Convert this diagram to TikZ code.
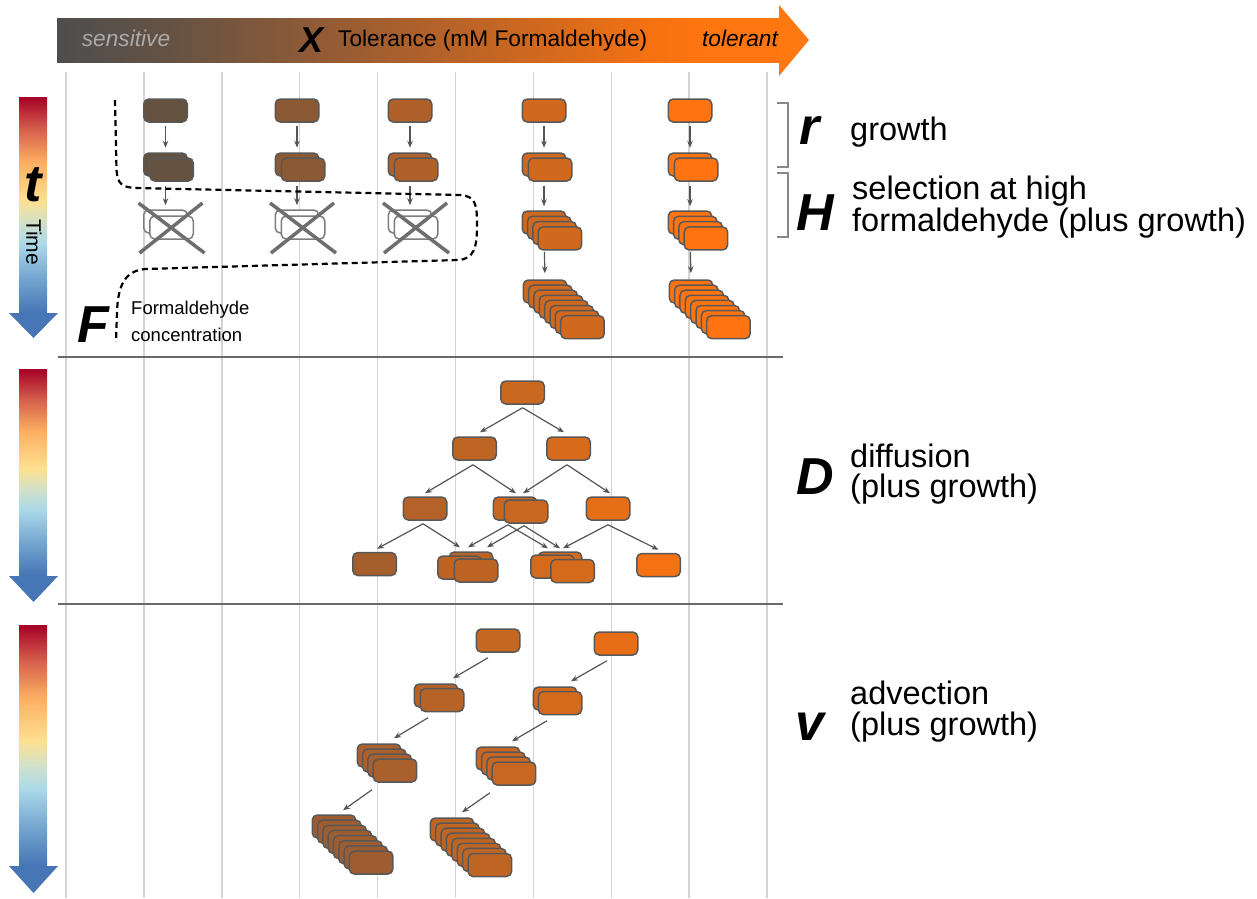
\documentclass[tikz,border=0pt]{standalone}
\usepackage{fontspec}
\setmainfont{Liberation Sans}
\usetikzlibrary{arrows.meta}
\definecolor{cA}{RGB}{101,81,63}
\definecolor{cB}{RGB}{139,90,53}
\definecolor{cC}{RGB}{176,97,42}
\definecolor{cD}{RGB}{208,105,29}
\definecolor{cE}{RGB}{255,116,16}
\definecolor{d1c}{RGB}{203,104,31}
\definecolor{d2lc}{RGB}{191,101,36}
\definecolor{d2rc}{RGB}{216,107,27}
\definecolor{d3lc}{RGB}{180,98,41}
\definecolor{d3mc}{RGB}{201,103,32}
\definecolor{d3rc}{RGB}{229,110,23}
\definecolor{d4lc}{RGB}{164,95,45}
\definecolor{d4gc}{RGB}{189,100,37}
\definecolor{d4hc}{RGB}{212,106,28}
\definecolor{d4rc}{RGB}{245,114,19}
\definecolor{ad1}{RGB}{197,102,33}
\definecolor{ad2}{RGB}{183,99,39}
\definecolor{ad3}{RGB}{169,96,44}
\definecolor{ad4}{RGB}{157,93,48}
\definecolor{bd1}{RGB}{231,110,23}
\definecolor{bd2}{RGB}{212,106,28}
\definecolor{bd3}{RGB}{199,103,33}
\definecolor{bd4}{RGB}{191,101,36}
\definecolor{cellborder}{RGB}{88,88,88}
\definecolor{arrgray}{RGB}{85,85,85}
\definecolor{gridgray}{RGB}{212,212,212}
\definecolor{sepgray}{RGB}{105,105,105}
\definecolor{brkgray}{RGB}{135,135,135}
\definecolor{xgray}{RGB}{110,110,110}
\definecolor{ghost}{RGB}{125,125,125}
\definecolor{sensgray}{RGB}{170,170,170}
\definecolor{headorange}{RGB}{255,121,16}
\definecolor{headblue}{RGB}{70,118,182}
\definecolor{t8}{RGB}{165,0,38}
\definecolor{t7}{RGB}{214,96,77}
\definecolor{t6}{RGB}{253,174,97}
\definecolor{t5}{RGB}{254,224,144}
\definecolor{t4}{RGB}{210,225,200}
\definecolor{t3}{RGB}{171,217,233}
\definecolor{t2}{RGB}{116,165,208}
\definecolor{tb}{RGB}{69,117,180}
\definecolor{b0}{RGB}{78,78,78}
\definecolor{b1}{RGB}{100,82,68}
\definecolor{b2}{RGB}{139,90,56}
\definecolor{b3}{RGB}{172,96,44}
\definecolor{b4}{RGB}{210,105,30}
\definecolor{b5}{RGB}{245,113,18}
\definecolor{b6}{RGB}{255,117,15}
\pgfdeclareverticalshading{timegrad}{100bp}{color(0bp)=(tb); color(25bp)=(tb); color(33bp)=(t2); color(41bp)=(t3); color(46bp)=(t4); color(51bp)=(t5); color(60bp)=(t6); color(67.5bp)=(t7); color(75bp)=(t8); color(100bp)=(t8)}
\pgfdeclarehorizontalshading{bargrad}{100bp}{color(0bp)=(b0); color(25bp)=(b0); color(32.5bp)=(b1); color(41.8bp)=(b2); color(49.4bp)=(b3); color(58.7bp)=(b4); color(66bp)=(b5); color(69.5bp)=(b6); color(75bp)=(b6); color(100bp)=(b6)}
\newcommand\bigletter{\fontsize{52}{52}\selectfont\bfseries\itshape}
\newcommand\labfont{\fontsize{32.5}{31}\selectfont}
\newcommand\barfont{\fontsize{22.7}{23}\selectfont}
\begin{document}
\begin{tikzpicture}[x=1pt,y=-1pt,
  cell/.style={draw=cellborder, line width=1.5pt, rounded corners=5pt, minimum width=43.5pt, minimum height=23pt, inner sep=0pt},
  ghostcell/.style={draw=ghost, fill=white, line width=1.5pt, rounded corners=5pt, minimum width=43.5pt, minimum height=23pt, inner sep=0pt},
  arr/.style={draw=arrgray, line width=1.2pt, -{Stealth[length=7pt,width=5.5pt]}},
  gridline/.style={draw=gridgray, line width=1.5pt},
  sepline/.style={draw=sepgray, line width=2.2pt},
  brk/.style={draw=brkgray, line width=1.5pt},
  xline/.style={draw=xgray, line width=3.5pt},
  fdash/.style={draw=black, line width=2.2pt, dash pattern=on 6pt off 4pt},
  lab/.style={anchor=base west, inner sep=0pt, font=\labfont},
  big/.style={anchor=base, inner sep=0pt, font=\bigletter}]
\useasboundingbox (0,0) rectangle (1257,898);
% grid
\foreach \i in {0,...,9} \draw[gridline] ({66+77.9*\i},72) -- ({66+77.9*\i},898);
\draw[sepline] (58,357) -- (783,357);
\draw[sepline] (58,604) -- (783,604);
% top bar
\shade[shading=bargrad] (57,18) rectangle (780,62);
\fill[headorange] (779,5) -- (809,40) -- (779,76) -- cycle;
\node[anchor=base, inner sep=0pt, font=\barfont\itshape, text=sensgray] (sens) at (126,46) {sensitive};
\node[anchor=base, inner sep=0pt, font=\fontsize{36}{36}\selectfont\bfseries\itshape] (xlab) at (312,52) {X};
\node[anchor=base west, inner sep=0pt, font=\barfont] (tol) at (338,46) {Tolerance (mM Formaldehyde)};
\node[anchor=base, inner sep=0pt, font=\barfont\itshape] (tolr) at (740,46) {tolerant};
% time arrows
\foreach \top/\hs/\tip in {97/313/338, 369/576/602, 625/866/893} {
  \shade[shading=timegrad] (19,\top) rectangle (47,\hs);
  \fill[headblue] (9,\hs) -- (58,\hs) -- (33.5,\tip) -- cycle;
}
\node[big] (tlab) at (33,201) {t};
\node[rotate=-90, inner sep=0pt, font=\fontsize{21}{21}\selectfont] (time) at (34,242) {Time};
% top panel: rows 1-2
\foreach \n/\x/\cc in {1/165.5/cA, 2/297/cB, 3/410/cC, 4/544/cD, 5/690/cE} {
  \node[cell,fill=\cc] (c\n-r1) at (\x,110.5) {};
  \node[cell,fill=\cc] (c\n-r2b) at (\x,164.5) {};
  \node[cell,fill=\cc] (c\n-r2f) at ({\x+6},169.5) {};
  \draw[arr, shorten <=3.5pt, shorten >=4.5pt] (c\n-r1.south) -- (c\n-r2b.north);
}
% crossed cells
\foreach \n/\x in {1/165.5, 2/297, 3/410} {
  \node[ghostcell] (c\n-r3b) at (\x,221.5) {};
  \node[ghostcell] (c\n-r3f) at ({\x+6},227.5) {};
  \draw[arr, shorten <=9pt, shorten >=4pt] (c\n-r2b.south) -- (c\n-r3b.north);
  \draw[xline] ({\x+6-33},203) -- ({\x+6+33},253);
  \draw[xline] ({\x+6+31},203) -- ({\x+6-32},253);
}
% surviving columns
\foreach \n/\x/\cc in {4/544/cD, 5/690/cE} {
  \foreach \k in {0,...,3} \node[cell,fill=\cc] (c\n-r3-\k) at ({\x+5.3*\k},{222.5+5.3*\k}) {};
  \foreach \k in {0,...,7} \node[cell,fill=\cc] (c\n-r4-\k) at ({\x+1+5.35*\k},{291.5+5.1*\k}) {};
  \draw[arr, shorten <=9pt, shorten >=4pt] (c\n-r2b.south) -- (c\n-r3-0.north);
  \draw[arr, shorten <=17pt, shorten >=6pt] (c\n-r3-0.south) -- (c\n-r4-0.north);
}
% formaldehyde curve
\draw[fdash] (115,100) -- (116.5,170) .. controls (117.5,184) and (122,187) .. (135,188) -- (460,195) .. controls (476,196) and (477,205) .. (477,225) .. controls (477,248) and (474,259) .. (458,260) -- (145,269) .. controls (125,271) and (118,285) .. (117,312) -- (116,342);
\node[big] (flab) at (93,342) {F};
\node[anchor=south west, inner sep=0pt, align=left, font=\fontsize{18.5}{27}\selectfont] (fc) at (131,342) {Formaldehyde\\concentration};
% brackets and labels
\draw[brk] (777,103) -- (788,103) -- (788,167) -- (777,167);
\draw[brk] (777,173) -- (788,173) -- (788,237) -- (777,237);
\node[big] (rlab) at (810,144) {r};
\node[lab] (rtxt) at (850,140) {growth};
\node[big] (hlab) at (815,230) {H};
\node[lab] (htxt1) at (852,199) {selection at high};
\node[lab] (htxt2) at (852,231) {formaldehyde (plus growth)};
\node[big] (dlab) at (815,494) {D};
\node[lab] (dtxt1) at (850,467) {diffusion};
\node[lab] (dtxt2) at (850,497) {(plus growth)};
\node[big] (vlab) at (810,740) {v};
\node[lab] (vtxt1) at (850,704) {advection};
\node[lab] (vtxt2) at (850,735) {(plus growth)};
% diffusion
\node[cell,fill=d1c] (d1) at (522.5,392.5) {};
\node[cell,fill=d2lc] (d2l) at (474.5,448.5) {};
\node[cell,fill=d2rc] (d2r) at (568.5,448.5) {};
\node[cell,fill=d3lc] (d3l) at (425,508.5) {};
\node[cell,fill=d3mc] (d3mb) at (515,508.5) {};
\node[cell,fill=d3mc] (d3mf) at (526,511.5) {};
\node[cell,fill=d3rc] (d3r) at (608,508.5) {};
\node[cell,fill=d4lc] (d4l) at (374.5,564) {};
\node[cell,fill=d4gc] (d4gb) at (471,563.5) {};
\node[cell,fill=d4gc] (d4gm) at (459.5,567.5) {};
\node[cell,fill=d4gc] (d4gf) at (476,570.5) {};
\node[cell,fill=d4hc] (d4hb) at (560,563.5) {};
\node[cell,fill=d4hc] (d4hm) at (552.5,566.5) {};
\node[cell,fill=d4hc] (d4hf) at (572.5,571) {};
\node[cell,fill=d4rc] (d4r) at (658.5,565) {};
\draw[arr] ([yshift=-3pt]d1.south) -- ([xshift=5.5pt,yshift=4pt]d2l.north);
\draw[arr] ([yshift=-3pt]d1.south) -- ([xshift=-4.5pt,yshift=4pt]d2r.north);
\draw[arr] ([xshift=-1.5pt,yshift=-4pt]d2l.south) -- ([yshift=3pt]d3l.north);
\draw[arr] ([xshift=-1.5pt,yshift=-4pt]d2l.south) -- ([xshift=1pt,yshift=3pt]d3mb.north);
\draw[arr] ([xshift=-1.5pt,yshift=-4pt]d2r.south) -- ([xshift=8pt,yshift=3pt]d3mb.north);
\draw[arr] ([xshift=-1.5pt,yshift=-4pt]d2r.south) -- ([xshift=2pt,yshift=3pt]d3r.north);
\draw[arr] ([xshift=-2pt,yshift=-3pt]d3l.south) -- ([xshift=2.5pt,yshift=3pt]d4l.north);
\draw[arr] ([xshift=-2pt,yshift=-3pt]d3l.south) -- ([xshift=-11pt,yshift=4pt]d4gb.north);
\draw[arr] ([xshift=-7pt,yshift=-4pt]d3mb.south) -- ([xshift=-3pt,yshift=4pt]d4gb.north);
\draw[arr] ([xshift=-7pt,yshift=-4pt]d3mb.south) -- ([xshift=-12pt,yshift=3pt]d4hb.north);
\draw[arr] ([xshift=-2pt,yshift=-2pt]d3mf.south) -- ([xshift=16pt,yshift=4pt]d4gb.north);
\draw[arr] ([xshift=-2pt,yshift=-2pt]d3mf.south) -- ([yshift=3pt]d4hb.north);
\draw[arr] ([yshift=-4pt]d3r.south) -- ([xshift=3pt,yshift=3pt]d4hb.north);
\draw[arr] ([yshift=-4pt]d3r.south) -- ([yshift=3pt]d4r.north);
% advection
\node[cell,fill=ad1] (a1) at (498,640.5) {};
\node[cell,fill=ad2] (a2b) at (436,695.5) {};
\node[cell,fill=ad2] (a2f) at (442,700) {};
\foreach \k in {0,...,3} \node[cell,fill=ad3] (a3-\k) at ({379+5.33*\k},{755.5+5*\k}) {};
\foreach \k in {0,...,7} \node[cell,fill=ad4] (a4-\k) at ({334+5.3*\k},{826.5+5.15*\k}) {};
\node[cell,fill=bd1] (b1) at (616,643.5) {};
\node[cell,fill=bd2] (b2b) at (555,698.5) {};
\node[cell,fill=bd2] (b2f) at (560,703) {};
\foreach \k in {0,...,3} \node[cell,fill=bd3] (b3-\k) at ({498+5.33*\k},{758.5+5*\k}) {};
\foreach \k in {0,...,7} \node[cell,fill=bd4] (b4-\k) at ({452+5.4*\k},{829.5+5.07*\k}) {};
\draw[arr] ([xshift=-10pt,yshift=-5pt]a1.south) -- ([xshift=17pt,yshift=5pt]a2b.north);
\draw[arr] ([xshift=-14pt,yshift=-5.5pt]a2f.south) -- ([xshift=15pt,yshift=5pt]a3-0.north);
\draw[arr] ([xshift=-23pt,yshift=-7pt]a3-3.south) -- ([xshift=9pt,yshift=4pt]a4-0.north);
\draw[arr] ([xshift=-9pt,yshift=-5pt]b1.south) -- ([xshift=16pt,yshift=5pt]b2b.north);
\draw[arr] ([xshift=-13pt,yshift=-5.5pt]b2f.south) -- ([xshift=14pt,yshift=5pt]b3-0.north);
\draw[arr] ([xshift=-24pt,yshift=-7pt]b3-3.south) -- ([xshift=10pt,yshift=5pt]b4-0.north);
\end{tikzpicture}
\end{document}
